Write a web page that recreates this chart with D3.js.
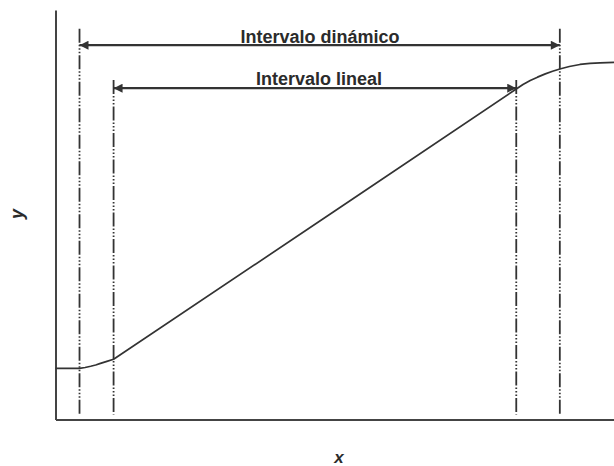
<!DOCTYPE html>
<html>
<head>
<meta charset="utf-8">
<script src="https://cdn.jsdelivr.net/npm/d3@7"></script>
<style>
  html, body { margin: 0; padding: 0; background: #fff; }
  svg { display: block; }
  text { font-family: "Liberation Sans", Arial, sans-serif; fill: #2b2b2b; }
</style>
</head>
<body>
<svg id="chart" width="614" height="466"></svg>
<script>
// Response curve (x, y) in arbitrary units, 0..100
const curveX = [0, 4.3, 5.3, 6.3, 7.2, 8.05, 9.2, 10.4, 50, 82.5, 83.7, 85.0, 86.3, 87.7, 89.0, 90.3, 92.0, 93.9, 95.7, 97.5, 100];
const curveY = [12.5, 12.5, 12.7, 13.0, 13.3, 13.7, 14.2, 14.7, 50.9, 80.7, 81.8, 82.8, 83.6, 84.4, 85.05, 85.6, 86.2, 86.7, 86.95, 87.1, 87.2];

// Vertical limit lines
const limitX = [4.3, 10.4, 82.5, 90.3];
const limitTop = [95.4, 82.9, 82.9, 95.4];
const limitBottom = 1.2;

// Interval arrows
const intervalLabels = ["Intervalo dinámico", "Intervalo lineal"];
const intervalStart = [4.3, 10.4];
const intervalEnd = [90.3, 82.5];
const intervalY = [91.4, 80.9];
const labelX = [47.36, 47.18];
const labelY = [92.0, 81.7];

const xLabel = "x";
const yLabel = "y";

const svg = d3.select("#chart");
const x = d3.scaleLinear().domain([0, 100]).range([55.5, 614]);
const y = d3.scaleLinear().domain([0, 100]).range([419.5, 10]);

const ink = "#333";

// arrow marker
const defs = svg.append("defs");
defs.append("marker")
  .attr("id", "arrow")
  .attr("viewBox", "0 0 10 10")
  .attr("refX", 10).attr("refY", 5)
  .attr("markerUnits", "userSpaceOnUse")
  .attr("markerWidth", 10).attr("markerHeight", 9)
  .attr("orient", "auto-start-reverse")
  .append("path")
  .attr("d", "M0,0 L10,5 L0,10 Z")
  .attr("fill", ink);

// Axes (lines only)
svg.append("g")
  .attr("transform", `translate(0,${y(0)})`)
  .call(d3.axisBottom(x).tickValues([]).tickSizeOuter(0));
svg.append("g")
  .attr("transform", `translate(${x(0)},0)`)
  .call(d3.axisLeft(y).tickValues([]).tickSizeOuter(0));
svg.selectAll(".domain").attr("stroke", "#444").attr("stroke-width", 2);

// Vertical limit lines
svg.append("g").selectAll("line")
  .data(limitX)
  .join("line")
  .attr("x1", d => x(d)).attr("x2", d => x(d))
  .attr("y1", (d, i) => y(limitTop[i]))
  .attr("y2", y(limitBottom))
  .attr("stroke", ink)
  .attr("stroke-width", 1.8)
  .attr("stroke-dasharray", "14,2,1.5,2,1.5,2,1.5,2");

// Curve
const pts = curveX.map((d, i) => [d, curveY[i]]);
svg.append("path")
  .datum(pts)
  .attr("fill", "none")
  .attr("stroke", ink)
  .attr("stroke-width", 1.7)
  .attr("stroke-linejoin", "round")
  .attr("d", d3.line().x(d => x(d[0])).y(d => y(d[1])).curve(d3.curveLinear));

// Interval arrows
svg.append("g").selectAll("line")
  .data(intervalLabels)
  .join("line")
  .attr("x1", (d, i) => x(intervalStart[i]))
  .attr("x2", (d, i) => x(intervalEnd[i]))
  .attr("y1", (d, i) => y(intervalY[i]))
  .attr("y2", (d, i) => y(intervalY[i]))
  .attr("stroke", ink)
  .attr("stroke-width", 2.2)
  .attr("marker-start", "url(#arrow)")
  .attr("marker-end", "url(#arrow)");

svg.append("g").selectAll("text")
  .data(intervalLabels)
  .join("text")
  .attr("x", (d, i) => x(labelX[i]))
  .attr("y", (d, i) => y(labelY[i]))
  .attr("text-anchor", "middle")
  .attr("font-size", 18)
  .attr("font-weight", "bold")
  .text(d => d);

// Axis titles
svg.append("text")
  .attr("x", 339).attr("y", 463)
  .attr("text-anchor", "middle")
  .attr("font-size", 17)
  .attr("font-weight", "bold")
  .attr("font-style", "italic")
  .text(xLabel);

svg.append("text")
  .attr("transform", "translate(23,214) rotate(-90)")
  .attr("text-anchor", "middle")
  .attr("font-size", 18)
  .attr("font-weight", "bold")
  .attr("font-style", "italic")
  .text(yLabel);
</script>
</body>
</html>
